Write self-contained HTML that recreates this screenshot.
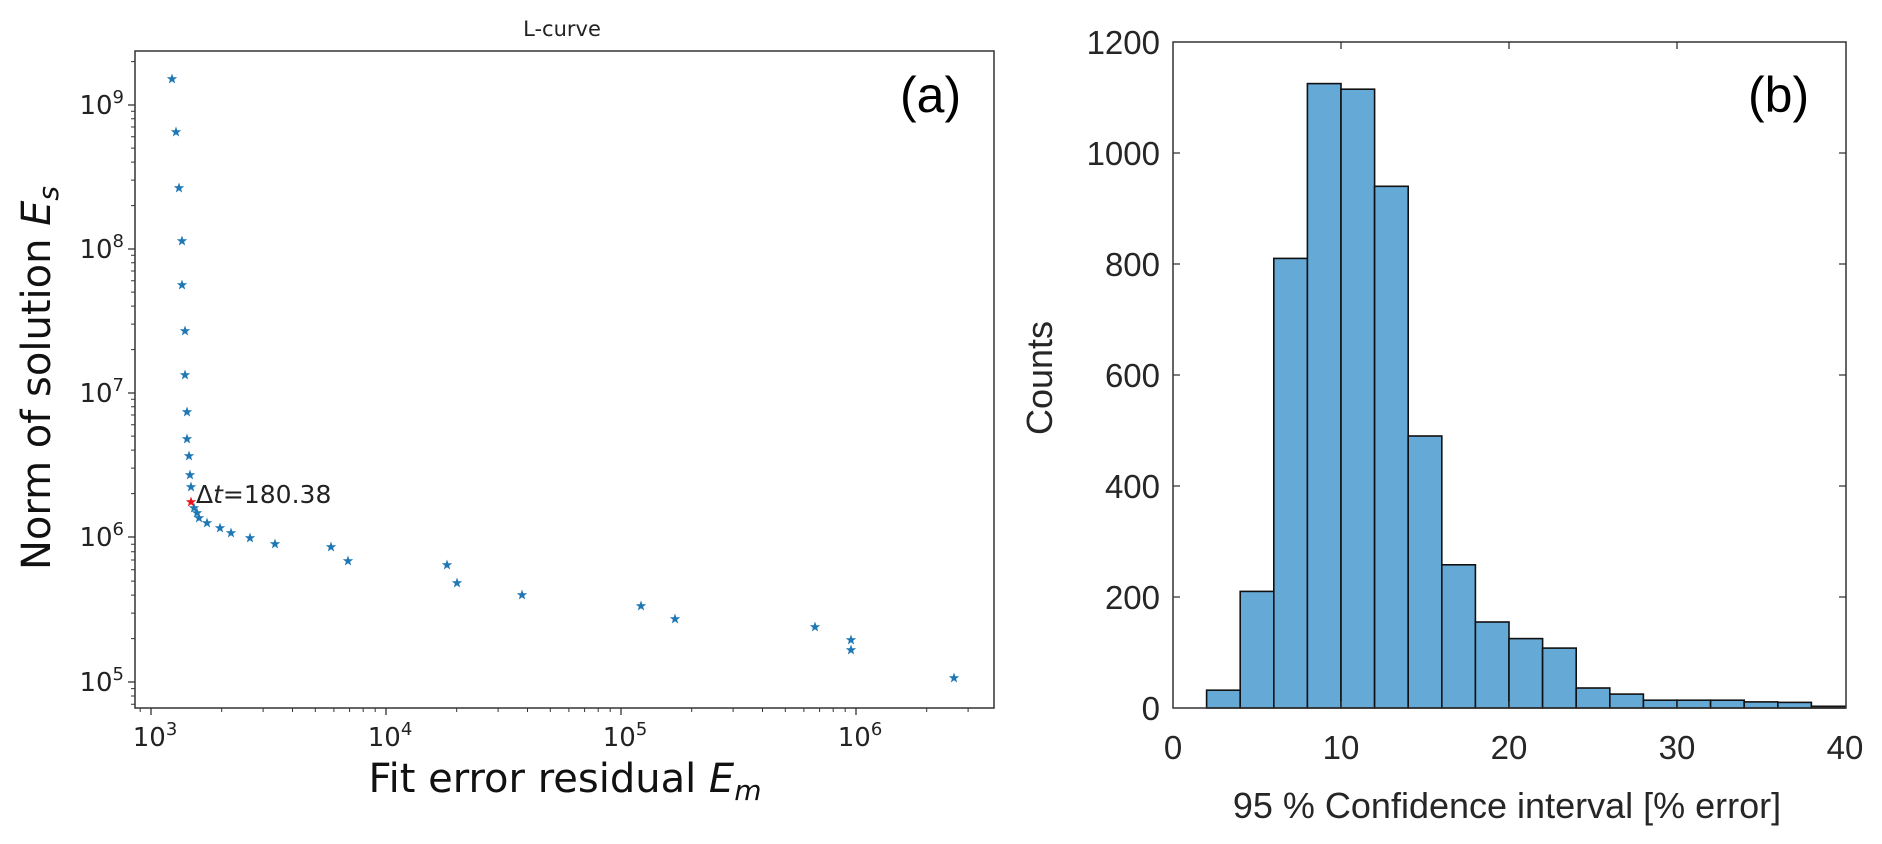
<!DOCTYPE html>
<html><head><meta charset="utf-8"><style>
html,body{margin:0;padding:0;background:#fff;}
svg{display:block;}
</style></head><body>
<svg width="1882" height="844" viewBox="0 0 1882 844" xmlns="http://www.w3.org/2000/svg" font-family="'DejaVu Sans', 'Liberation Sans', sans-serif">
<defs>
<path id="st" d="M0,-5.5 L1.3,-1.8 5.2,-1.7 2.1,0.7 3.2,4.5 0,2.2 -3.2,4.5 -2.1,0.7 -5.2,-1.7 -1.3,-1.8Z"/>
</defs>
<!-- Left plot -->
<text x="562" y="36" font-size="21" text-anchor="middle" fill="#222">L-curve</text>
<rect x="135" y="51" width="859" height="657" fill="none" stroke="#333" stroke-width="1.5"/>
<g stroke="#333" stroke-width="1.3">
<line x1="135" y1="105" x2="128" y2="105"/><line x1="135" y1="249" x2="128" y2="249"/><line x1="135" y1="393" x2="128" y2="393"/><line x1="135" y1="537" x2="128" y2="537"/><line x1="135" y1="682" x2="128" y2="682"/>
<line x1="151" y1="708" x2="151" y2="715"/><line x1="386" y1="708" x2="386" y2="715"/><line x1="621" y1="708" x2="621" y2="715"/><line x1="856" y1="708" x2="856" y2="715"/>
</g>
<path stroke="#333" stroke-width="1" fill="none" d="
M135 638.6h-4M135 613.1h-4M135 595.1h-4M135 581.1h-4M135 569.7h-4M135 560h-4M135 551.7h-4M135 544.3h-4
M135 688.6h-4M135 696h-4M135 704.3h-4
M135 493.6h-4M135 468.1h-4M135 450.1h-4M135 436.1h-4M135 424.7h-4M135 415h-4M135 406.7h-4M135 399.3h-4
M135 349.6h-4M135 324.1h-4M135 306.1h-4M135 292.1h-4M135 280.7h-4M135 271h-4M135 262.7h-4M135 255.3h-4
M135 205.6h-4M135 180.1h-4M135 162.1h-4M135 148.1h-4M135 136.7h-4M135 127h-4M135 118.7h-4M135 111.3h-4
M135 61.6h-4
M140.2 708v4M221.7 708v4M263.1 708v4M292.5 708v4M315.3 708v4M333.9 708v4M349.6 708v4M363.2 708v4M375.2 708v4
M456.7 708v4M498.1 708v4M527.5 708v4M550.3 708v4M568.9 708v4M584.6 708v4M598.2 708v4M610.2 708v4
M691.7 708v4M733.1 708v4M762.5 708v4M785.3 708v4M803.9 708v4M819.6 708v4M833.2 708v4M845.2 708v4
M926.7 708v4M968.1 708v4"/>
<g font-size="26" fill="#222" text-anchor="end">
<text x="124" y="114">10<tspan dy="-11" font-size="18">9</tspan></text>
<text x="124" y="258">10<tspan dy="-11" font-size="18">8</tspan></text>
<text x="124" y="402">10<tspan dy="-11" font-size="18">7</tspan></text>
<text x="124" y="546">10<tspan dy="-11" font-size="18">6</tspan></text>
<text x="124" y="691">10<tspan dy="-11" font-size="18">5</tspan></text>
</g>
<g font-size="26" fill="#222" text-anchor="middle">
<text x="155" y="746">10<tspan dy="-11" font-size="18">3</tspan></text>
<text x="390" y="746">10<tspan dy="-11" font-size="18">4</tspan></text>
<text x="625" y="746">10<tspan dy="-11" font-size="18">5</tspan></text>
<text x="860" y="746">10<tspan dy="-11" font-size="18">6</tspan></text>
</g>
<text x="565" y="792" font-size="40" fill="#111" text-anchor="middle">Fit error residual <tspan font-style="italic">E</tspan><tspan font-style="italic" font-size="28" dy="8">m</tspan></text>
<text transform="translate(50,378) rotate(-90)" font-size="40" fill="#111" text-anchor="middle">Norm of solution <tspan font-style="italic">E</tspan><tspan font-style="italic" font-size="28" dy="8">s</tspan></text>
<text x="900" y="112" font-size="50" fill="#000" font-family="'Liberation Sans', sans-serif">(a)</text>
<g fill="#1f77b4">
<use href="#st" x="172" y="79"/><use href="#st" x="176" y="132"/><use href="#st" x="179" y="188"/><use href="#st" x="182" y="241"/><use href="#st" x="182" y="285"/><use href="#st" x="185" y="331"/><use href="#st" x="185" y="375"/><use href="#st" x="187" y="412"/><use href="#st" x="187" y="439"/><use href="#st" x="189" y="456"/><use href="#st" x="190" y="475"/><use href="#st" x="191" y="487"/><use href="#st" x="194" y="508"/><use href="#st" x="197" y="513"/><use href="#st" x="199" y="518"/><use href="#st" x="207" y="523"/><use href="#st" x="220" y="528"/><use href="#st" x="231" y="533"/><use href="#st" x="250" y="538"/><use href="#st" x="275" y="544"/><use href="#st" x="331" y="547"/><use href="#st" x="348" y="561"/><use href="#st" x="447" y="565"/><use href="#st" x="457" y="583"/><use href="#st" x="522" y="595"/><use href="#st" x="641" y="606"/><use href="#st" x="675" y="619"/><use href="#st" x="815" y="627"/><use href="#st" x="851" y="640"/><use href="#st" x="851" y="650"/><use href="#st" x="954" y="678"/>
</g>
<use href="#st" x="191" y="502" fill="#e8141b"/>
<text x="196" y="503" font-size="25" fill="#222">Δ<tspan font-style="italic">t</tspan>=180.38</text>

<!-- Right plot -->
<g fill="#65a9d7" stroke="#111" stroke-width="1.6">
<rect x="1206.6" y="690.2" width="33.6" height="17.8"/>
<rect x="1240.2" y="591.4" width="33.6" height="116.6"/>
<rect x="1273.8" y="258.4" width="33.6" height="449.6"/>
<rect x="1307.4" y="83.6" width="33.6" height="624.4"/>
<rect x="1341" y="89.2" width="33.6" height="618.8"/>
<rect x="1374.6" y="186.3" width="33.6" height="521.7"/>
<rect x="1408.2" y="436" width="33.6" height="272"/>
<rect x="1441.8" y="564.8" width="33.6" height="143.2"/>
<rect x="1475.4" y="622" width="33.6" height="86"/>
<rect x="1509" y="638.6" width="33.6" height="69.4"/>
<rect x="1542.6" y="648.1" width="33.6" height="59.9"/>
<rect x="1576.2" y="688" width="33.6" height="20"/>
<rect x="1609.8" y="694.1" width="33.6" height="13.9"/>
<rect x="1643.4" y="700.2" width="33.6" height="7.8"/>
<rect x="1677" y="700.2" width="33.6" height="7.8"/>
<rect x="1710.6" y="700.2" width="33.6" height="7.8"/>
<rect x="1744.2" y="701.9" width="33.6" height="6.1"/>
<rect x="1777.8" y="702.4" width="33.6" height="5.6"/>
<rect x="1811.4" y="706.3" width="33.6" height="1.7"/>
</g>
<rect x="1173" y="42" width="673" height="666" fill="none" stroke="#333" stroke-width="1.5"/>
<path stroke="#333" stroke-width="1.3" fill="none" d="
M1173 597h7M1173 486h7M1173 375h7M1173 264h7M1173 153h7
M1846 597h-7M1846 486h-7M1846 375h-7M1846 264h-7M1846 153h-7
M1341 708v-7M1509 708v-7M1677 708v-7
M1341 42v7M1509 42v7M1677 42v7"/>
<g font-family="'Liberation Sans', sans-serif" font-size="33" fill="#262626" text-anchor="end">
<text x="1160" y="720">0</text><text x="1160" y="609">200</text><text x="1160" y="498">400</text><text x="1160" y="387">600</text><text x="1160" y="276">800</text><text x="1160" y="165">1000</text><text x="1160" y="54">1200</text>
</g>
<g font-family="'Liberation Sans', sans-serif" font-size="33" fill="#262626" text-anchor="middle">
<text x="1173" y="759">0</text><text x="1341" y="759">10</text><text x="1509" y="759">20</text><text x="1677" y="759">30</text><text x="1845" y="759">40</text>
</g>
<text x="1507" y="818" font-family="'Liberation Sans', sans-serif" font-size="36" fill="#262626" text-anchor="middle">95 % Confidence interval [% error]</text>
<text transform="translate(1052,378) rotate(-90)" font-family="'Liberation Sans', sans-serif" font-size="36" fill="#262626" text-anchor="middle">Counts</text>
<text x="1748" y="112" font-size="50" fill="#000" font-family="'Liberation Sans', sans-serif">(b)</text>
</svg>
</body></html>
